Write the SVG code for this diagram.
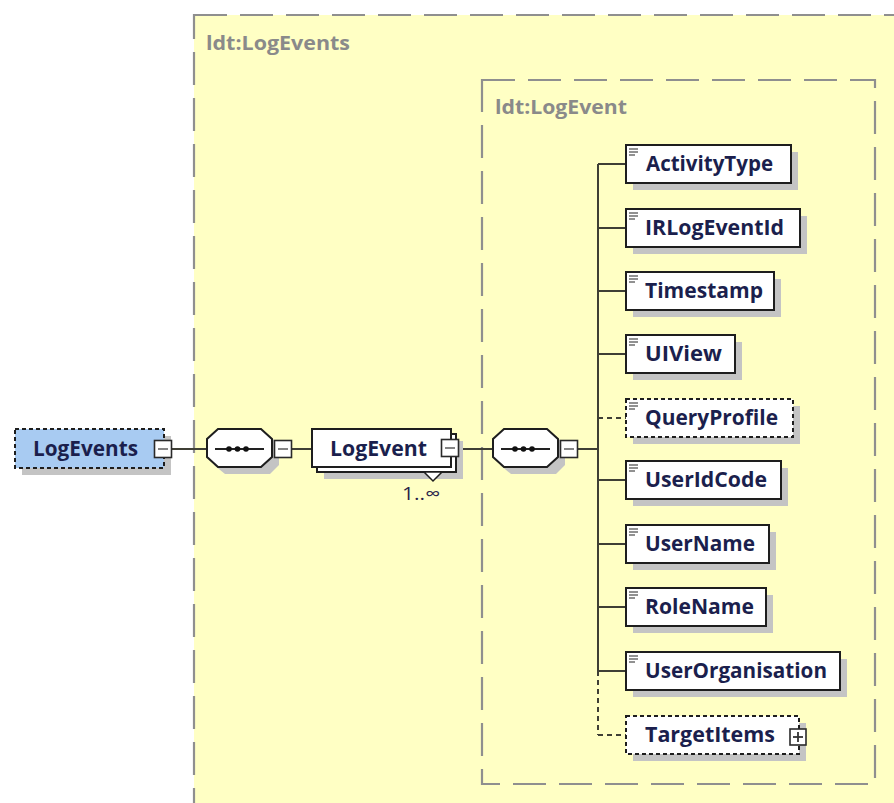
<svg xmlns="http://www.w3.org/2000/svg" width="894" height="803" viewBox="0 0 894 803">
<defs>
<style>
.grp{fill:#ffffc4;stroke:#8f8f8f;stroke-width:2.2;stroke-dasharray:33 13}
.glbl{font-family:"Open Sans","Liberation Sans",sans-serif;font-weight:bold;font-size:19px;fill:#8a8a8a}
.box{fill:#ffffff;stroke:#1e1e1e;stroke-width:2}
.opt{fill:#ffffff;stroke:#1e1e1e;stroke-width:2;stroke-dasharray:4 3}
.root{fill:#a8cbf2;stroke:#1e1e1e;stroke-width:2;stroke-dasharray:4 3}
.shd{fill:#c4c4c4}
.lbl{font-family:"Open Sans","Liberation Sans",sans-serif;font-weight:bold;font-size:21px;fill:#1b1f4d}
.card{font-family:"Open Sans","Liberation Sans",sans-serif;font-size:18px;fill:#2a1f4a}
.con{stroke:#3f3f35;stroke-width:2;fill:none}
.cond{stroke:#3f3f35;stroke-width:2;fill:none;stroke-dasharray:5 4}
.sm{fill:#ffffff;stroke:#2a2a2a;stroke-width:1.6}
.smi{stroke:#777;stroke-width:1.8}
.ico{stroke:#555;stroke-width:1.3}
</style>
<g id="icon"><line class="ico" x1="2" y1="3" x2="11" y2="3"/><line class="ico" x1="2" y1="6" x2="11" y2="6"/><line class="ico" x1="2" y1="9" x2="8" y2="9"/></g>
<g id="minus"><rect class="sm" x="-8.5" y="-8.5" width="17" height="17"/><line class="smi" x1="-5" y1="0" x2="5" y2="0"/></g>
<g id="plus"><rect class="sm" x="-8" y="-8" width="16" height="16"/><line class="smi" x1="-5" y1="0" x2="5" y2="0" style="stroke:#333"/><line class="smi" x1="0" y1="-5" x2="0" y2="5" style="stroke:#333"/></g>
<g id="seq">
<polygon class="shd" points="225,436 270,436 279,445 279,465 270,474 225,474 214,465 214,445"/>
<polygon class="box" points="218,429 261,429 272,439 272,457 261,467 218,467 207,457 207,439"/>
<line x1="215" y1="449" x2="264" y2="449" stroke="#222" stroke-width="2"/>
<circle cx="229" cy="449" r="2.8" fill="#111"/><circle cx="237.5" cy="449" r="2.8" fill="#111"/><circle cx="246" cy="449" r="2.8" fill="#111"/>
</g>
</defs>
<rect width="894" height="803" fill="#ffffff"/>
<g id="group-LogEvents">
<rect class="grp" x="194" y="15" width="720" height="810"/>
<text class="glbl" x="206" y="50" textLength="144" lengthAdjust="spacingAndGlyphs">ldt:LogEvents</text>
</g>
<g id="group-LogEvent">
<rect class="grp" x="482" y="80" width="393" height="704"/>
<text class="glbl" x="495" y="114" textLength="132" lengthAdjust="spacingAndGlyphs">ldt:LogEvent</text>
</g>
<g id="connectors">
<line class="con" x1="172" y1="449" x2="207" y2="449"/>
<line class="con" x1="292" y1="449" x2="312" y2="449"/>
<line class="con" x1="459" y1="449" x2="493" y2="449"/>
<line class="con" x1="578" y1="449" x2="598" y2="449"/>
<line class="con" x1="598" y1="164" x2="598" y2="671"/>
<line class="cond" x1="598" y1="671" x2="598" y2="735"/>
<line class="con" x1="598" y1="164" x2="626" y2="164"/>
<line class="con" x1="598" y1="228" x2="626" y2="228"/>
<line class="con" x1="598" y1="291" x2="626" y2="291"/>
<line class="con" x1="598" y1="354" x2="626" y2="354"/>
<line class="cond" x1="598" y1="418" x2="626" y2="418"/>
<line class="con" x1="598" y1="480" x2="626" y2="480"/>
<line class="con" x1="598" y1="544" x2="626" y2="544"/>
<line class="con" x1="598" y1="607" x2="626" y2="607"/>
<line class="con" x1="598" y1="671" x2="626" y2="671"/>
<line class="cond" x1="598" y1="735" x2="626" y2="735"/>
</g>
<g id="node-LogEvents">
<rect class="shd" x="22" y="436" width="149" height="39"/>
<rect class="root" x="15" y="429" width="149" height="39"/>
<text class="lbl" x="33" y="456" textLength="105" lengthAdjust="spacingAndGlyphs">LogEvents</text>
<use href="#minus" x="163" y="449"/>
</g>
<g id="node-sequence1">
<use href="#seq"/>
<use href="#minus" x="283" y="449"/>
</g>
<g id="node-LogEvent">
<rect class="shd" x="324" y="441" width="139" height="38"/>
<rect class="box" x="317" y="434" width="139" height="38"/>
<polygon points="424,472 442,472 433,481" fill="#ffffff" stroke="#1e1e1e" stroke-width="1.5"/>
<rect class="box" x="312" y="429" width="139" height="38"/>
<text class="lbl" x="330" y="456" textLength="97" lengthAdjust="spacingAndGlyphs">LogEvent</text>
<use href="#minus" x="450" y="448"/>
<text class="card" x="402" y="500" textLength="38" lengthAdjust="spacingAndGlyphs">1..∞</text>
</g>
<g id="node-sequence2">
<use href="#seq" x="286"/>
<use href="#minus" x="569" y="449"/>
</g>
<g id="node-ActivityType">
<rect class="shd" x="633" y="152" width="165" height="38"/>
<rect class="box" x="626" y="145" width="165" height="38"/>
<use href="#icon" x="627" y="146"/>
<text class="lbl" x="646" y="171" textLength="127" lengthAdjust="spacingAndGlyphs">ActivityType</text>
</g>
<g id="node-IRLogEventId">
<rect class="shd" x="633" y="216" width="174" height="38"/>
<rect class="box" x="626" y="209" width="174" height="38"/>
<use href="#icon" x="627" y="210"/>
<text class="lbl" x="645" y="235" textLength="139" lengthAdjust="spacingAndGlyphs">IRLogEventId</text>
</g>
<g id="node-Timestamp">
<rect class="shd" x="633" y="279" width="148" height="38"/>
<rect class="box" x="626" y="272" width="148" height="38"/>
<use href="#icon" x="627" y="273"/>
<text class="lbl" x="645" y="298" textLength="118" lengthAdjust="spacingAndGlyphs">Timestamp</text>
</g>
<g id="node-UIView">
<rect class="shd" x="633" y="342" width="109" height="38"/>
<rect class="box" x="626" y="335" width="109" height="38"/>
<use href="#icon" x="627" y="336"/>
<text class="lbl" x="645" y="361" textLength="77" lengthAdjust="spacingAndGlyphs">UIView</text>
</g>
<g id="node-QueryProfile">
<rect class="shd" x="633" y="406" width="167" height="38"/>
<rect class="opt" x="626" y="399" width="167" height="38"/>
<use href="#icon" x="627" y="400"/>
<text class="lbl" x="645" y="425" textLength="133" lengthAdjust="spacingAndGlyphs">QueryProfile</text>
</g>
<g id="node-UserIdCode">
<rect class="shd" x="633" y="468" width="155" height="38"/>
<rect class="box" x="626" y="461" width="155" height="38"/>
<use href="#icon" x="627" y="462"/>
<text class="lbl" x="645" y="487" textLength="122" lengthAdjust="spacingAndGlyphs">UserIdCode</text>
</g>
<g id="node-UserName">
<rect class="shd" x="633" y="532" width="143" height="38"/>
<rect class="box" x="626" y="525" width="143" height="38"/>
<use href="#icon" x="627" y="526"/>
<text class="lbl" x="645" y="551" textLength="110" lengthAdjust="spacingAndGlyphs">UserName</text>
</g>
<g id="node-RoleName">
<rect class="shd" x="633" y="595" width="140" height="38"/>
<rect class="box" x="626" y="588" width="140" height="38"/>
<use href="#icon" x="627" y="589"/>
<text class="lbl" x="645" y="614" textLength="109" lengthAdjust="spacingAndGlyphs">RoleName</text>
</g>
<g id="node-UserOrganisation">
<rect class="shd" x="633" y="659" width="214" height="38"/>
<rect class="box" x="626" y="652" width="214" height="38"/>
<use href="#icon" x="627" y="653"/>
<text class="lbl" x="645" y="678" textLength="182" lengthAdjust="spacingAndGlyphs">UserOrganisation</text>
</g>
<g id="node-TargetItems">
<rect class="shd" x="633" y="723" width="173" height="38"/>
<rect class="opt" x="626" y="716" width="173" height="38"/>
<text class="lbl" x="645" y="742" textLength="130" lengthAdjust="spacingAndGlyphs">TargetItems</text>
<use href="#plus" x="798" y="737"/>
</g>
</svg>
